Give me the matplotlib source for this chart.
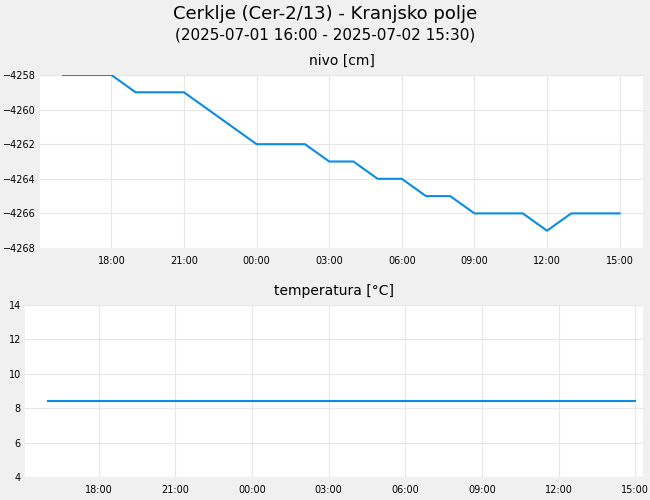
import matplotlib
matplotlib.use("Agg")
import matplotlib.pyplot as plt
import matplotlib.dates as mdates
import numpy as np
from datetime import datetime, timedelta

hours = list(range(16, 24)) + list(range(0, 16))
times = [datetime(2025, 7, 1, 16) + timedelta(hours=i) for i in range(24)]
nivo = [-4258, -4258, -4258, -4259, -4259, -4259, -4260, -4261, -4262, -4262, -4262,
        -4263, -4263, -4264, -4264, -4265, -4265, -4266, -4266, -4266, -4267, -4266,
        -4266, -4266]
temp = [8.4] * 24

fig = plt.figure(figsize=(6.5, 5), dpi=100)
fig.patch.set_facecolor('#f0f0f0')
fig.text(0.5, 0.972, "Cerklje (Cer-2/13) - Kranjsko polje", ha='center', va='center', fontsize=13)
fig.text(0.5, 0.930, "(2025-07-01 16:00 - 2025-07-02 15:30)", ha='center', va='center', fontsize=11)

ax1 = fig.add_axes([40/650, 1-248/500, 603/650, 173/500])
ax2 = fig.add_axes([25/650, 1-477/500, 618/650, 172/500])
color = '#0a8be6'
ax1.plot(times, nivo, color=color, lw=1.5)
ax2.plot(times, temp, color=color, lw=1.5)
ax1.set_ylim(-4268, -4258)
ax1.set_yticks(np.arange(-4268, -4257, 2))
ax2.set_ylim(4, 14)
ax2.set_yticks(np.arange(4, 15, 2))
ax1.set_xlim(datetime(2025, 7, 1, 15, 3), datetime(2025, 7, 2, 15, 58))
ax2.set_xlim(datetime(2025, 7, 1, 15, 7), datetime(2025, 7, 2, 15, 18))
ax1.set_title("nivo [cm]", fontsize=10, pad=7)
ax2.set_title("temperatura [°C]", fontsize=10, pad=7)
for ax in (ax1, ax2):
    ax.set_facecolor('white')
    for s in ax.spines.values():
        s.set_visible(False)
    ax.grid(True, color='#e6e6e6', lw=0.8)
    ax.set_axisbelow(True)
    ax.xaxis.set_major_locator(mdates.HourLocator(byhour=range(0, 24, 3)))
    ax.xaxis.set_major_formatter(mdates.DateFormatter('%H:%M'))
    ax.tick_params(length=0, labelsize=7, pad=6)
    ax.tick_params(axis='y', pad=3)
    for lab in ax.get_yticklabels():
        lab.set_horizontalalignment('right')
fig.savefig("out.png", dpi=100, facecolor=fig.get_facecolor())
